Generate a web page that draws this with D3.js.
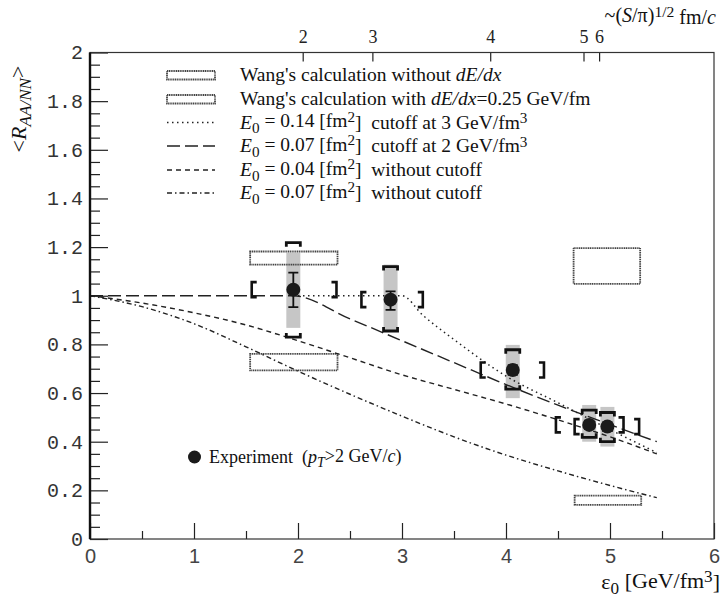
<!DOCTYPE html>
<html>
<head>
<meta charset="utf-8">
<script src="https://cdn.jsdelivr.net/npm/d3@7"></script>
<style>
  body { margin: 0; background: #fff; }
  .serif { font-family: "Liberation Serif", "Times New Roman", serif; }
</style>
</head>
<body>
<div class="chart"></div>
<script>
(function() {
  var width = 722, height = 601;

  // experiment points
  var expEps   = [1.955, 2.89, 4.065, 4.80, 4.975];
  var expR     = [1.025, 0.984, 0.695, 0.469, 0.462];
  var statLo   = [0.953, 0.942, 0.675, 0.452, 0.444];
  var statHi   = [1.095, 1.018, 0.715, 0.487, 0.480];
  var sysLo    = [0.868, 0.853, 0.579, 0.400, 0.380];
  var sysHi    = [1.177, 1.128, 0.798, 0.551, 0.543];
  var brLo     = [0.830, 0.855, 0.616, 0.418, 0.400];
  var brHi     = [1.218, 1.120, 0.778, 0.530, 0.520];
  var epsLo    = [1.555, 2.61, 3.757, 4.48, 4.66];
  var epsHi    = [2.37, 3.20, 4.365, 5.13, 5.28];

  // Wang's calculation boxes
  var wangNoEpsLo = [1.54, 4.65], wangNoEpsHi = [2.38, 5.29];
  var wangNoRLo   = [1.128, 1.049], wangNoRHi = [1.182, 1.196];
  var wangDeEpsLo = [1.54, 4.66], wangDeEpsHi = [2.38, 5.30];
  var wangDeRLo   = [0.693, 0.140], wangDeRHi = [0.761, 0.178];

  // model curves
  var dotEps  = [2.0, 3.0, 3.2, 3.5, 4.0, 4.5, 5.0, 5.45];
  var dotR    = [1.0, 1.0, 0.92, 0.82, 0.67, 0.56, 0.45, 0.355];
  var longEps = [0, 1.95, 2.5, 3.0, 3.5, 4.0, 4.5, 5.0, 5.45];
  var longR   = [1.0, 1.0, 0.905, 0.815, 0.725, 0.635, 0.55, 0.47, 0.40];
  var shortEps = [0, 0.5, 1, 1.5, 2, 2.5, 3, 3.5, 4, 4.5, 5, 5.45];
  var shortR   = [1.0, 0.97, 0.93, 0.88, 0.815, 0.745, 0.675, 0.615, 0.555, 0.49, 0.42, 0.35];
  var ddEps = [0, 0.5, 1, 1.5, 2, 2.5, 3, 3.5, 4, 4.5, 5, 5.45];
  var ddR   = [1.0, 0.955, 0.885, 0.79, 0.69, 0.595, 0.505, 0.42, 0.345, 0.28, 0.22, 0.17];

  // top axis
  var topLabels = ["2", "3", "4", "5", "6"];
  var topEps    = [2.05, 2.72, 3.853, 4.75, 4.90];

  var svg = d3.select(".chart").append("svg")
    .attr("width", width).attr("height", height);

  var x = d3.scaleLinear().domain([0, 6]).range([90, 714]);
  var y = d3.scaleLinear().domain([0, 2]).range([539, 52.5]);

  // gray systematic bands
  svg.append("g").selectAll("rect").data(expEps).enter().append("rect")
    .attr("x", function(d) { return x(d) - 7; })
    .attr("width", 14)
    .attr("y", function(d, i) { return y(sysHi[i]); })
    .attr("height", function(d, i) { return y(sysLo[i]) - y(sysHi[i]); })
    .attr("fill", "#c6c6c6");

  // Wang boxes
  function boxes(elo, ehi, rlo, rhi) {
    svg.append("g").selectAll("rect").data(elo).enter().append("rect")
      .attr("x", function(d) { return x(d); })
      .attr("width", function(d, i) { return x(ehi[i]) - x(d); })
      .attr("y", function(d, i) { return y(rhi[i]); })
      .attr("height", function(d, i) { return y(rlo[i]) - y(rhi[i]); })
      .attr("fill", "none").attr("stroke", "#444").attr("stroke-width", 1.8)
      .attr("stroke-dasharray", "1.2,0.6");
  }
  boxes(wangNoEpsLo, wangNoEpsHi, wangNoRLo, wangNoRHi);
  boxes(wangDeEpsLo, wangDeEpsHi, wangDeRLo, wangDeRHi);

  // curves
  var line = d3.line().x(function(d) { return x(d[0]); }).y(function(d) { return y(d[1]); })
    .curve(d3.curveMonotoneX);
  function curve(es, rs, dash, w) {
    svg.append("path")
      .attr("d", line(d3.zip(es, rs)))
      .attr("fill", "none").attr("stroke", "#222")
      .attr("stroke-width", w).attr("stroke-dasharray", dash);
  }
  var dotDash = "1.5,3.5", longDash = "13,5", shortDash = "5,4", ddDash = "5,3,1.5,3";
  curve(dotEps, dotR, dotDash, 1.5);
  curve(longEps, longR, longDash, 1.4);
  curve(shortEps, shortR, shortDash, 1.4);
  curve(ddEps, ddR, ddDash, 1.4);

  // experiment brackets
  var ex = svg.append("g").attr("fill", "none").attr("stroke", "#111");
  expEps.forEach(function(e, i) {
    var cx = x(e), cy = y(expR[i]);
    // top / bottom brackets
    var t = y(brHi[i]), b = y(brLo[i]);
    ex.append("path").attr("stroke-width", 2.8)
      .attr("d", "M" + (cx - 7) + "," + (t + 4) + "V" + t + "H" + (cx + 7) + "V" + (t + 4));
    ex.append("path").attr("stroke-width", 2.8)
      .attr("d", "M" + (cx - 7) + "," + (b - 4) + "V" + b + "H" + (cx + 7) + "V" + (b - 4));
    // eps brackets
    var l = x(epsLo[i]), r = x(epsHi[i]);
    ex.append("path").attr("stroke-width", 2.6)
      .attr("d", "M" + (l + 5) + "," + (cy - 7.5) + "H" + l + "V" + (cy + 7.5) + "H" + (l + 5));
    ex.append("path").attr("stroke-width", 2.6)
      .attr("d", "M" + (r - 5) + "," + (cy - 7.5) + "H" + r + "V" + (cy + 7.5) + "H" + (r - 5));
    // stat error bar
    var sh = y(statHi[i]), sl = y(statLo[i]);
    ex.append("path").attr("stroke-width", 1.8)
      .attr("d", "M" + cx + "," + sh + "V" + sl + "M" + (cx - 5) + "," + sh + "H" + (cx + 5) +
        "M" + (cx - 5) + "," + sl + "H" + (cx + 5));
  });
  svg.append("g").selectAll("circle").data(expEps).enter().append("circle")
    .attr("cx", function(d) { return x(d); })
    .attr("cy", function(d, i) { return y(expR[i]); })
    .attr("r", 7).attr("fill", "#1a1a1a");

  // axes
  var xAxis = d3.axisBottom(x).tickValues(d3.range(0, 7, 1)).tickFormat(d3.format("d"))
    .tickSizeInner(-16).tickSizeOuter(0).tickPadding(10);
  var gx = svg.append("g").attr("transform", "translate(0,539)").call(xAxis);
  gx.select(".domain").remove();
  gx.selectAll("text").attr("font-family", "Liberation Sans, Arial, sans-serif")
    .attr("font-size", 20).attr("fill", "#444");
  gx.selectAll("line").attr("stroke", "#222").attr("stroke-width", 1.2);
  var gxm = svg.append("g").attr("transform", "translate(0,539)")
    .call(d3.axisBottom(x).tickValues(d3.range(0.5, 6, 1)).tickFormat("").tickSizeInner(-8).tickSizeOuter(0));
  gxm.select(".domain").remove();
  gxm.selectAll("line").attr("stroke", "#222").attr("stroke-width", 1.2);

  var yAxis = d3.axisLeft(y).tickValues(d3.range(0, 2.01, 0.2))
    .tickFormat(function(d) { var s = d3.format(".1f")(d); return s === "0.0" ? "0" : s === "1.0" ? "1" : s === "2.0" ? "2" : s; })
    .tickSizeInner(-18).tickSizeOuter(0).tickPadding(7);
  var gy = svg.append("g").attr("transform", "translate(90,0)").call(yAxis);
  gy.select(".domain").remove();
  gy.selectAll("text").attr("font-family", "Liberation Mono, Courier New, monospace")
    .attr("font-size", 20).attr("fill", "#333");
  gy.selectAll("line").attr("stroke", "#222").attr("stroke-width", 1.2);
  var minorY = d3.range(0.05, 2, 0.05).filter(function(v) { return Math.abs(v / 0.2 - Math.round(v / 0.2)) > 0.01; });
  var gym = svg.append("g").attr("transform", "translate(90,0)")
    .call(d3.axisLeft(y).tickValues(minorY).tickFormat("").tickSizeInner(-10).tickSizeOuter(0));
  gym.select(".domain").remove();
  gym.selectAll("line").attr("stroke", "#222").attr("stroke-width", 1.2);

  // top axis
  var gt = svg.append("g").selectAll("g").data(topEps).enter().append("g")
    .attr("transform", function(d) { return "translate(" + x(d) + ",52.5)"; });
  gt.append("line").attr("y2", 9).attr("stroke", "#222").attr("stroke-width", 1.2);
  gt.append("text").attr("class", "serif").attr("y", -10).attr("text-anchor", "middle")
    .attr("font-size", 18).attr("fill", "#222")
    .text(function(d, i) { return topLabels[i]; });

  // frame
  svg.append("rect").attr("x", 90).attr("y", 52.5).attr("width", 624).attr("height", 486.5)
    .attr("fill", "none").attr("stroke", "#333").attr("stroke-width", 1.2);
  svg.append("line").attr("x1", 90).attr("x2", 90).attr("y1", 52.5).attr("y2", 539)
    .attr("stroke", "#111").attr("stroke-width", 2.4);

  // rich text helper
  function rich(sel, parts) {
    parts.forEach(function(p) {
      var t = sel.append("tspan").text(p[0]);
      var s = p[1] || "";
      if (s.indexOf("i") >= 0) t.attr("font-style", "italic");
      if (s.indexOf("sub") >= 0) t.attr("dy", "0.3em").attr("font-size", "0.78em");
      if (s.indexOf("sup") >= 0) t.attr("dy", "-0.35em").attr("font-size", "0.78em");
      if (s.indexOf("back") >= 0) t.attr("dy", s.indexOf("up") >= 0 ? "-0.3em" : "0.35em");
    });
  }

  // legend
  var rowsY = [75, 99, 122.5, 146, 170, 193];
  var leg = svg.append("g").attr("class", "serif").attr("font-size", 19.5).attr("fill", "#111");
  [0, 1].forEach(function(k) {
    leg.append("rect").attr("x", 167).attr("y", rowsY[k] - 4).attr("width", 48).attr("height", 8.5)
      .attr("fill", "none").attr("stroke", "#444").attr("stroke-width", 1.8).attr("stroke-dasharray", "1.2,0.6");
  });
  [dotDash, longDash, shortDash, ddDash].forEach(function(dash, k) {
    leg.append("line").attr("x1", 167).attr("x2", 215).attr("y1", rowsY[k + 2]).attr("y2", rowsY[k + 2])
      .attr("stroke", "#222").attr("stroke-width", 1.4).attr("stroke-dasharray", dash);
  });
  var legTexts = [
    [["Wang's calculation without "], ["dE/dx", "i"]],
    [["Wang's calculation with "], ["dE/dx", "i"], ["=0.25 GeV/fm"]],
    [["E", "i"], ["0", "sub"], [" = 0.14 [fm", "backup"], ["2", "sup"], ["]  cutoff at 3 GeV/fm", "back"], ["3", "sup"]],
    [["E", "i"], ["0", "sub"], [" = 0.07 [fm", "backup"], ["2", "sup"], ["]  cutoff at 2 GeV/fm", "back"], ["3", "sup"]],
    [["E", "i"], ["0", "sub"], [" = 0.04 [fm", "backup"], ["2", "sup"], ["]  without cutoff", "back"]],
    [["E", "i"], ["0", "sub"], [" = 0.07 [fm", "backup"], ["2", "sup"], ["]  without cutoff", "back"]]
  ];
  legTexts.forEach(function(parts, k) {
    var t = leg.append("text").attr("x", 240).attr("y", rowsY[k] + 6).attr("xml:space", "preserve");
    rich(t, parts);
  });

  // experiment legend
  svg.append("circle").attr("cx", 194.5).attr("cy", 457).attr("r", 6.5).attr("fill", "#1a1a1a");
  var et = svg.append("text").attr("class", "serif").attr("x", 209).attr("y", 463)
    .attr("font-size", 18).attr("fill", "#111").attr("xml:space", "preserve");
  rich(et, [["Experiment  ("], ["p", "i"], ["T", "isub"], [">2 GeV/", "backup"], ["c", "i"], [")"]]);

  // axis titles
  var xt = svg.append("text").attr("class", "serif").attr("x", 720).attr("y", 589)
    .attr("text-anchor", "end").attr("font-size", 22).attr("fill", "#111");
  rich(xt, [["ε"], ["0", "sub"], [" [GeV/fm", "backup"], ["3", "sup"], ["]", "back"]]);

  var tt = svg.append("text").attr("class", "serif").attr("x", 716).attr("y", 22)
    .attr("text-anchor", "end").attr("font-size", 20).attr("fill", "#111");
  rich(tt, [["~("], ["S", "i"], ["/π)"], ["1/2", "sup"], [" fm/", "back"], ["c", "i"]]);

  var yt = svg.append("text").attr("class", "serif")
    .attr("transform", "translate(26,109) rotate(-90)")
    .attr("text-anchor", "middle").attr("font-size", 22).attr("fill", "#111");
  rich(yt, [["<"], ["R", "i"], ["AA/NN", "isub"], [">", "backup"]]);
})();
</script>
</body>
</html>
